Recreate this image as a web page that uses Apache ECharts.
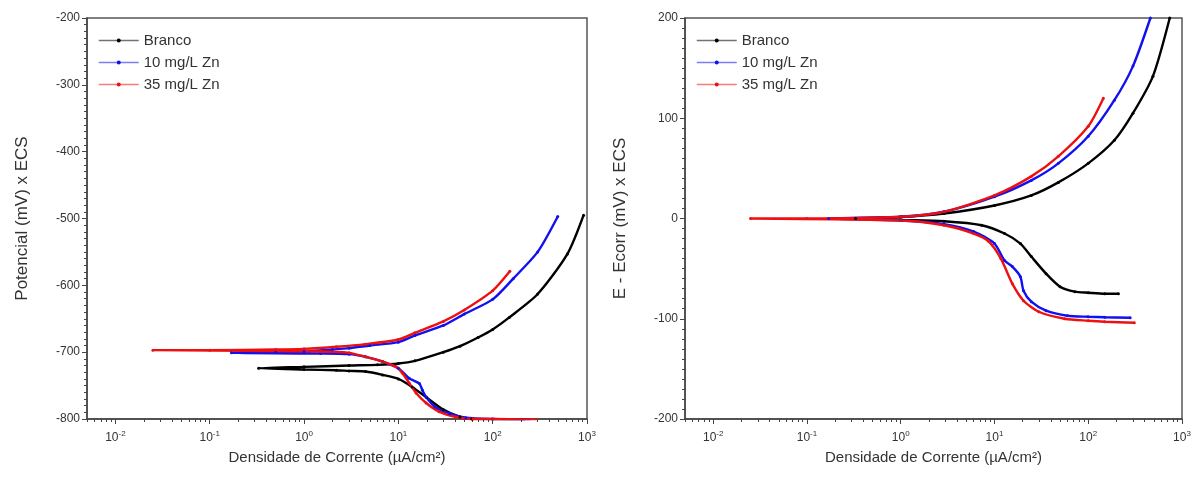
<!DOCTYPE html>
<html>
<head>
<meta charset="utf-8">
<script src="https://cdn.jsdelivr.net/npm/echarts@6/dist/echarts.min.js"></script>
<style>
  html, body { margin: 0; background: #fff; }
  #chart { width: 1197px; height: 484px; }
</style>
</head>
<body>
<div id="chart"></div>
<script>
const seriesNames = ['Branco', '10 mg/L Zn', '35 mg/L Zn'];
const seriesColors = ['#000000', '#1010f0', '#ee1010'];

// left panel: [current µA/cm², potential mV vs ECS], cathodic end -> Ecorr -> anodic end
const brancoLeft = [
  [220, -801], [100, -801], [60, -800], [45, -797], [30, -786], [20, -768], [14, -752],
  [10, -740], [6.8, -734], [4.5, -729], [3, -728], [2.2, -727], [1, -726], [0.33, -724],
  [1, -722], [3, -720], [6, -719], [10, -717], [15, -713], [30, -700], [45, -691],
  [70, -678], [100, -666], [150, -648], [300, -613], [620, -553], [920, -495]
];
const zn10Left = [
  [250, -801], [100, -800], [52, -798], [35, -792], [24.5, -782], [19.7, -767], [18, -757],
  [16.7, -747], [13, -739], [10, -724], [6.8, -714], [4.5, -707], [3, -703], [1.5, -702],
  [0.17, -701],
  [0.5, -700], [1, -699], [2, -696], [3, -694], [5, -690], [10, -685], [15, -675],
  [30, -660], [50, -643], [100, -621], [165, -590], [300, -550], [490, -497]
];
const zn35Left = [
  [300, -801], [100, -800], [62, -800], [41, -797], [27, -789], [19.7, -776], [15.4, -761],
  [13, -746], [11, -731], [9.5, -722], [6.8, -714], [4.5, -707], [3, -701], [1.5, -699],
  [0.025, -697],
  [0.1, -697], [0.5, -696], [1, -695], [2.2, -692], [4.5, -688], [10, -681], [15, -671],
  [30, -654], [50, -637], [100, -608], [152, -579]
];

// right panel: [current µA/cm², E - Ecorr mV]
const brancoRight = [
  [210, -75], [150, -75], [100, -74], [72, -73], [50, -68], [35.5, -55], [24.7, -38],
  [18.9, -25], [12.8, -15], [7.3, -6.7], [2.9, -2.7], [1, -1.5], [0.33, 0],
  [1, 1.5], [2.9, 5], [10, 13], [24.7, 23], [48, 36], [100, 55], [190, 78], [300, 105],
  [490, 142], [740, 200]
];
const zn10Right = [
  [280, -99], [150, -98.5], [100, -98], [60, -97], [35.5, -92], [24.7, -83], [20.4, -72],
  [18.9, -58], [15.5, -48], [12.8, -42], [10, -25], [6, -13], [2.9, -5.7], [1, -2], [0.17, 0],
  [1, 1.7], [2.9, 6.7], [10, 21.7], [24.7, 38], [48, 55], [100, 82], [190, 118],
  [300, 152], [460, 200]
];
const zn35Right = [
  [310, -104], [150, -103], [100, -102], [56, -100], [29.7, -93], [20.4, -82], [15.5, -65],
  [11.7, -40], [8.7, -23], [6, -15], [2.9, -6.7], [1, -2], [0.025, 0],
  [0.1, 0], [1, 1.7], [2.9, 6.7], [10, 23], [24.7, 42], [48, 62], [100, 92], [145, 120]
];

const decadeTicks = [0.01, 0.1, 1, 10, 100, 1000];
const minorMultipliers = [2, 3, 4, 5, 6, 7, 8, 9];
const minorDecades = [0.001, 0.01, 0.1, 1, 10, 100];

const X_MIN = 0.005, X_MAX = 1000;
const FONT = "'Liberation Sans', Arial, sans-serif";

const minorTicks = [];
minorDecades.forEach(d => minorMultipliers.forEach(m => {
  const v = +(d * m).toPrecision(3);
  if (v >= X_MIN && v <= X_MAX) minorTicks.push(v);
}));

const chart = echarts.init(document.getElementById('chart'));

const grids = [
  { left: 87, top: 18, width: 500, height: 401 },
  { left: 685, top: 18, width: 497, height: 401 }
];

function mainX(gridIndex) {
  return {
    type: 'log', logBase: 10, gridIndex, min: X_MIN, max: X_MAX, position: 'bottom',
    name: 'Densidade de Corrente (µA/cm²)', nameLocation: 'middle', nameGap: 31,
    nameTextStyle: { fontFamily: FONT, fontSize: 15, color: '#333' },
    axisLine: { onZero: false, lineStyle: { color: '#444', width: 1.5 } },
    axisTick: { length: 5, lineStyle: { color: '#444' }, customValues: decadeTicks },
    axisLabel: {
      customValues: decadeTicks, margin: 11,
      fontFamily: FONT, fontSize: 12, color: '#333',
      formatter: v => '10{s|' + Math.round(Math.log10(v)) + '}',
      rich: { s: { fontSize: 8, fontFamily: FONT, color: '#333', verticalAlign: 'bottom', padding: [0, 0, 8, 0] } }
    },
    splitLine: { show: false }
  };
}
function minorX(gridIndex) {
  return {
    type: 'log', logBase: 10, gridIndex, min: X_MIN, max: X_MAX, position: 'bottom',
    axisLine: { show: false, onZero: false },
    axisTick: { length: 3, lineStyle: { color: '#444' }, customValues: minorTicks },
    axisLabel: { show: false },
    splitLine: { show: false }
  };
}
function yAxis(gridIndex, min, max, name) {
  return {
    type: 'value', gridIndex, min, max, interval: 100, name,
    nameLocation: 'middle', nameGap: 56,
    nameTextStyle: { fontFamily: FONT, fontSize: 17, color: '#333' },
    axisLine: { show: true, onZero: false, lineStyle: { color: '#444', width: 1.5 } },
    axisTick: { show: true, length: 5, lineStyle: { color: '#444' } },
    minorTick: { show: true, splitNumber: 10, length: 3, lineStyle: { color: '#444' } },
    axisLabel: { fontFamily: FONT, fontSize: 12, color: '#333', margin: 7 },
    splitLine: { show: false }
  };
}

function makeSeries(name, color, data, xi, yi) {
  return {
    name, type: 'line', data, xAxisIndex: xi, yAxisIndex: yi,
    showSymbol: true, symbol: 'circle', symbolSize: 3,
    smooth: 0.25,
    lineStyle: { color, width: 2.4 },
    itemStyle: { color },
    emphasis: { disabled: true }
  };
}

function makeLegend(left) {
  return {
    left, top: 28, orient: 'vertical', itemGap: 7, itemWidth: 40, itemHeight: 5,
    data: seriesNames,
    textStyle: { fontFamily: FONT, fontSize: 15, color: '#333' },
    lineStyle: { opacity: 0.55, width: 1.5 }
  };
}

chart.setOption({
  animation: false,
  grid: grids.map(g => Object.assign({ show: true, borderColor: '#555', borderWidth: 1.5, backgroundColor: 'transparent' }, g)),
  xAxis: [mainX(0), minorX(0), mainX(1), minorX(1)],
  yAxis: [
    yAxis(0, -800, -200, 'Potencial (mV) x ECS'),
    yAxis(1, -200, 200, 'E - Ecorr (mV) x ECS')
  ],
  legend: [makeLegend(93), makeLegend(691)],
  series: [
    makeSeries(seriesNames[0], seriesColors[0], brancoLeft, 0, 0),
    makeSeries(seriesNames[1], seriesColors[1], zn10Left, 0, 0),
    makeSeries(seriesNames[2], seriesColors[2], zn35Left, 0, 0),
    makeSeries(seriesNames[0], seriesColors[0], brancoRight, 2, 1),
    makeSeries(seriesNames[1], seriesColors[1], zn10Right, 2, 1),
    makeSeries(seriesNames[2], seriesColors[2], zn35Right, 2, 1)
  ]
});
</script>
</body>
</html>
